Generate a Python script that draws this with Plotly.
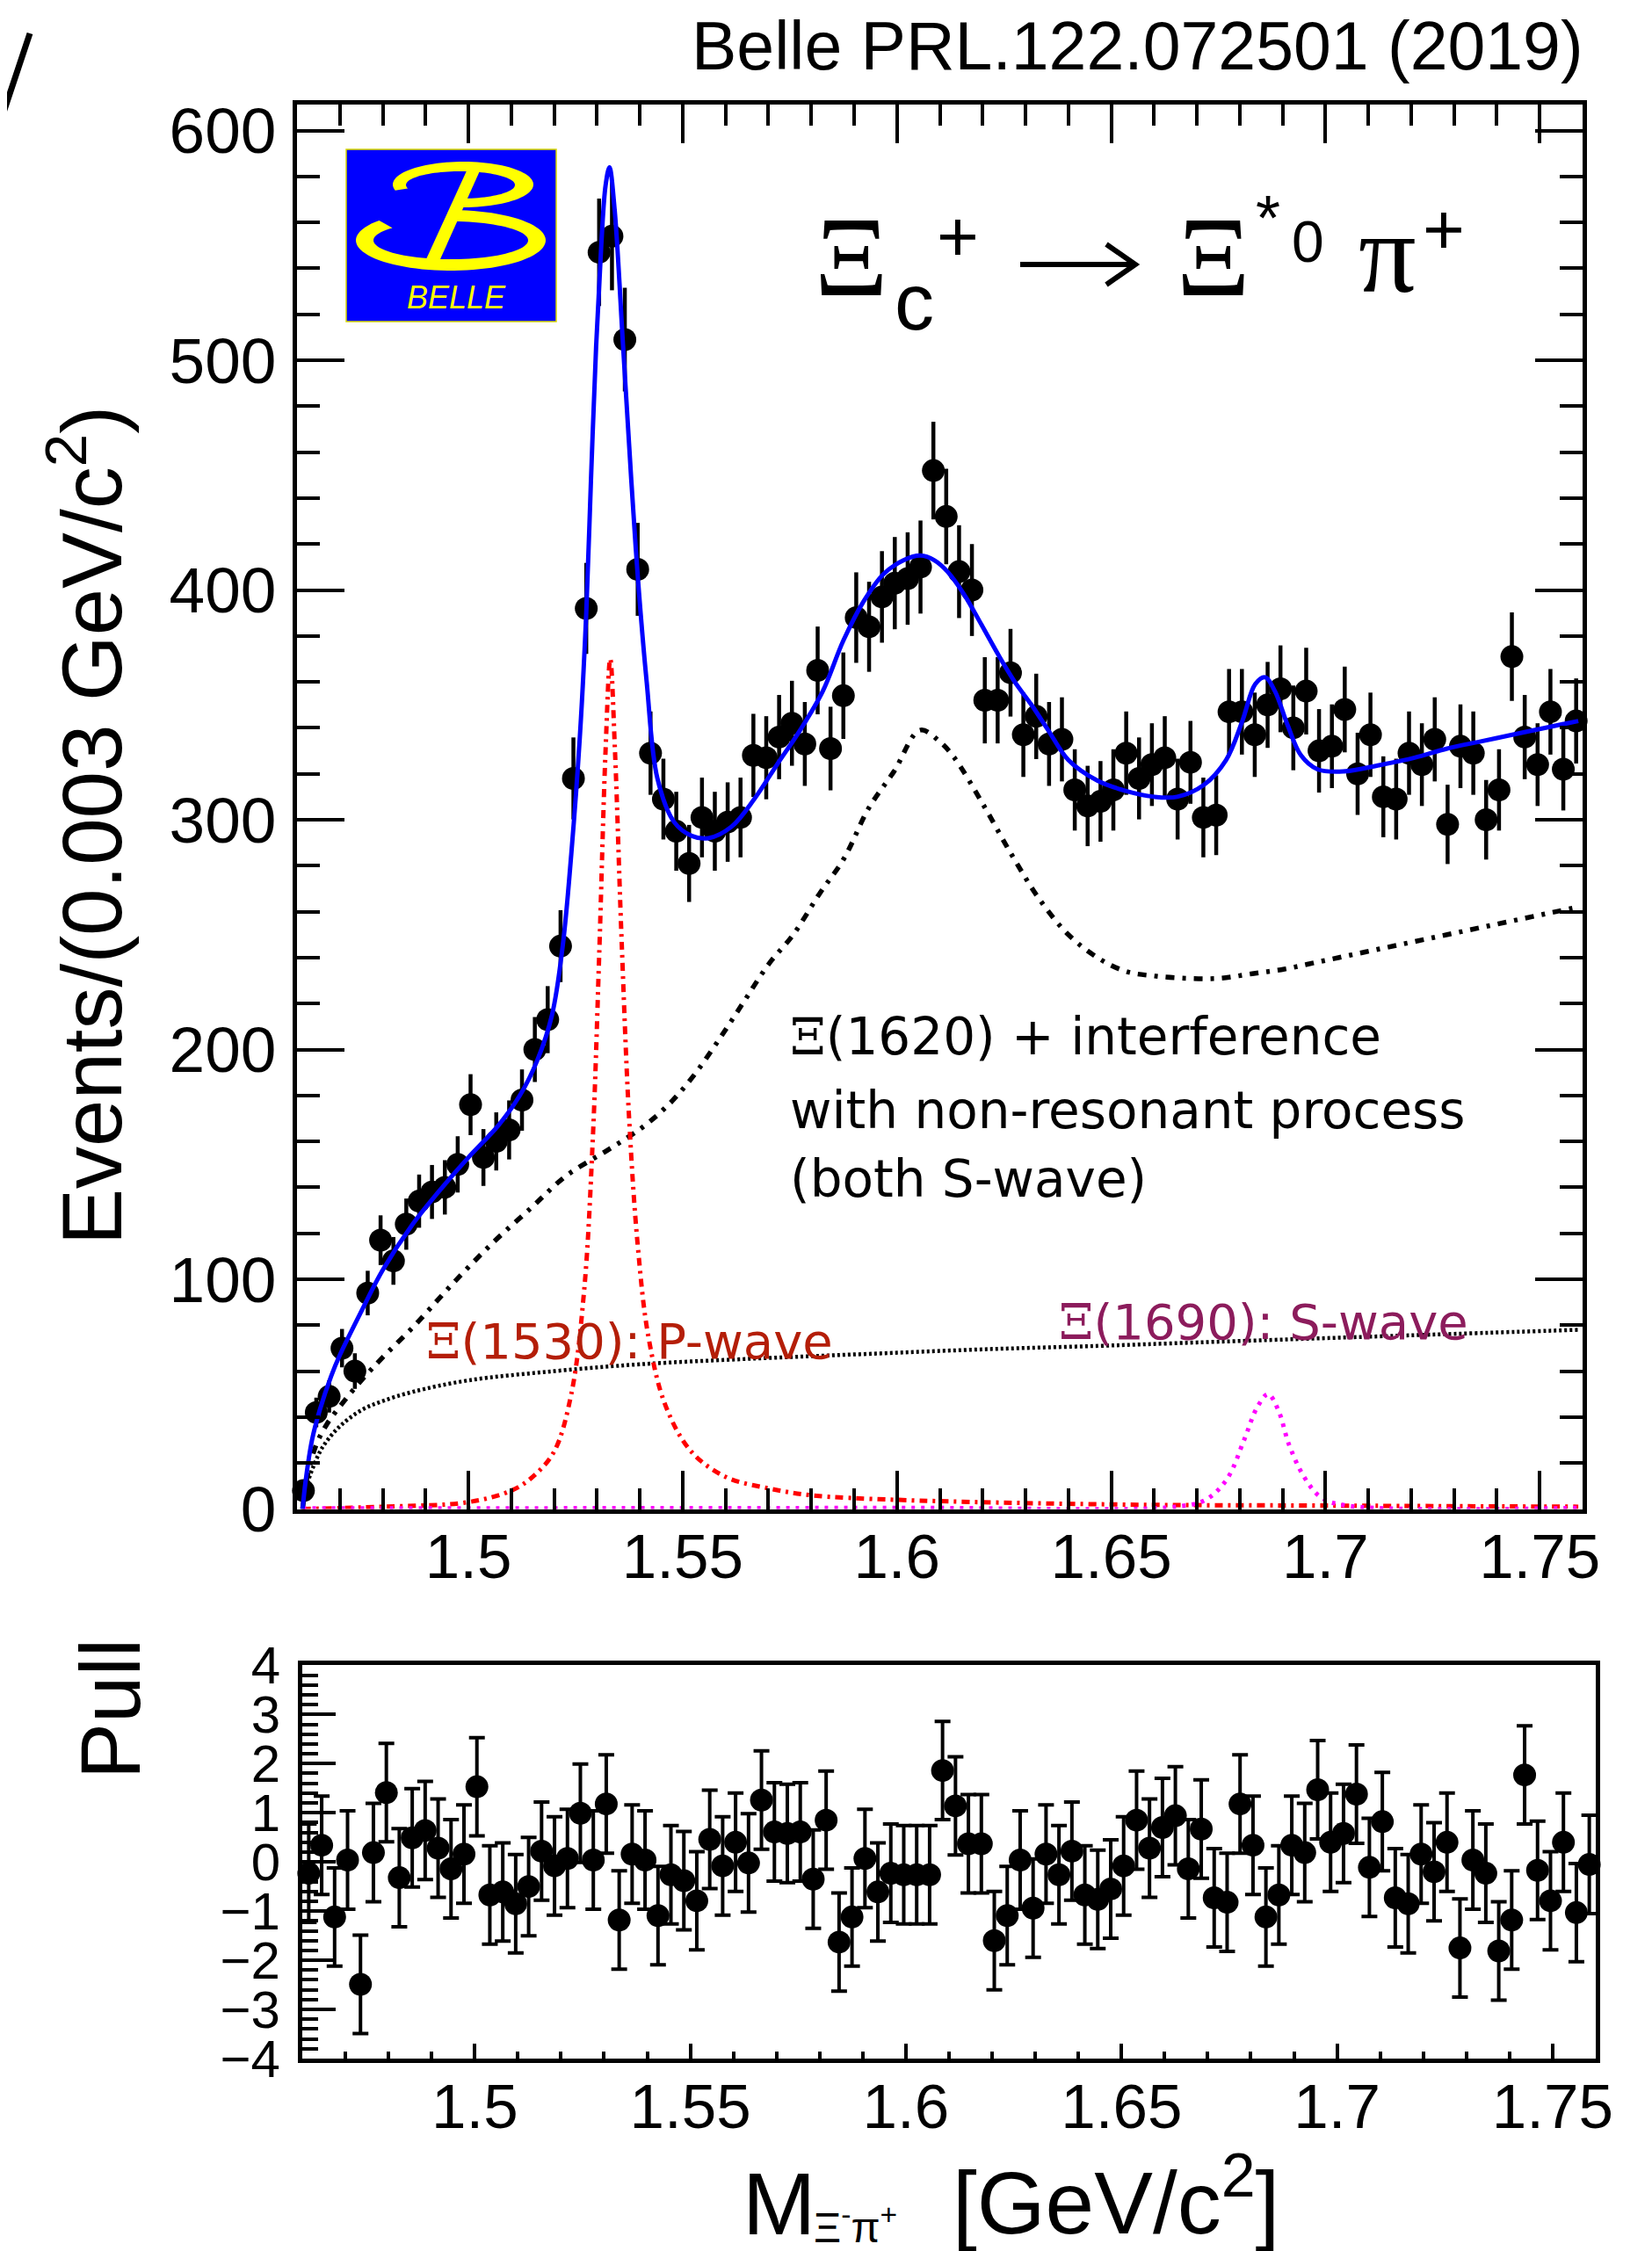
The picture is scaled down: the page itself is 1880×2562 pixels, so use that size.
import numpy as np
import plotly.graph_objects as go

W, H = 1880, 2562
OX, OY = 8, 8   # page offset of the plot inside the browser page


def px(x):
    return (x - OX) / W


def py(y):
    return 1 - (y - OY) / H


# ---------------- data ----------------
bin_lo = 1.46
bin_width = 0.003

counts = [8, 42, 49, 70, 60, 94, 117, 108, 124, 134,
          138, 140, 150, 176, 153, 160, 165, 178, 200, 213,
          245, 318, 392, 547, 554, 509, 409, 329, 309, 295,
          281, 301, 295, 299, 301, 328, 327, 336, 342, 333,
          365, 331, 354, 388, 384, 397, 403, 405, 410, 452,
          432, 408, 400, 352, 352, 364, 337, 345, 333, 335,
          313, 306, 308, 313, 329, 318, 324, 327, 309, 325,
          301, 302, 347, 347, 337, 350, 357, 340, 356, 330,
          332, 348, 320, 337, 310, 309, 329, 324, 335, 298,
          332, 329, 300, 313, 371, 336, 324, 347, 322, 343]

pulls = [-0.23, 0.34, -1.12, 0.04, -2.49, 0.19, 1.41, -0.32, 0.49, 0.64,
         0.28, -0.14, 0.16, 1.53, -0.67, -0.61, -0.85, -0.50, 0.22, -0.08,
         0.07, 0.99, 0.04, 1.18, -1.18, 0.16, 0.04, -1.09, -0.26, -0.38,
         -0.79, 0.46, -0.08, 0.40, -0.02, 1.26, 0.61, 0.58, 0.61, -0.35,
         0.85, -1.63, -1.12, 0.07, -0.61, -0.23, -0.26, -0.26, -0.26, 1.86,
         1.14, 0.37, 0.37, -1.60, -1.09, 0.04, -0.94, 0.16, -0.26, 0.22,
         -0.67, -0.76, -0.55, -0.08, 0.85, 0.28, 0.70, 0.94, -0.14, 0.67,
         -0.73, -0.82, 1.18, 0.34, -1.12, -0.67, 0.34, 0.19, 1.47, 0.40,
         0.58, 1.38, -0.11, 0.82, -0.73, -0.85, 0.16, -0.20, 0.40, -1.75,
         0.04, -0.23, -1.81, -1.18, 1.77, -0.17, -0.79, 0.40, -1.03, -0.05]

mass = [round(bin_lo + bin_width * (i + 0.5), 4) for i in range(len(counts))]
count_err = [float(np.sqrt(c)) for c in counts]
pull_err = [1.0] * len(pulls)

# total fit (blue)
fit_m = [1.4613, 1.4620, 1.4635, 1.4653, 1.4680, 1.4700, 1.4750, 1.4800, 1.4870, 1.4930,
         1.5000, 1.5070, 1.5120, 1.5160, 1.5195, 1.5220, 1.5240, 1.5260, 1.5275, 1.5286,
         1.5298, 1.5310, 1.5320, 1.5329, 1.5341, 1.5361, 1.5380, 1.5396, 1.5416, 1.5441,
         1.5480, 1.5521, 1.5560, 1.5614, 1.5667, 1.5720, 1.5774, 1.5827, 1.5875, 1.5922,
         1.5969, 1.6016, 1.6055, 1.6087, 1.6118, 1.6157, 1.6197, 1.6236, 1.6275, 1.6314,
         1.6353, 1.6400, 1.6468, 1.6526, 1.6601, 1.6654, 1.6715, 1.6768, 1.6806, 1.6836,
         1.6859, 1.6882, 1.6912, 1.6943, 1.6981, 1.7041, 1.7132, 1.7208, 1.7284, 1.7360,
         1.7436, 1.7512, 1.7590]
fit_v = [0, 12, 30, 43, 58, 67, 86, 104, 124, 138,
         153, 167, 180, 195, 215, 245, 285, 336, 390, 448,
         506, 550, 576, 584, 566, 506, 448, 404, 360, 318,
         299, 293, 292, 297, 309, 324, 339, 356, 378, 395,
         407, 413, 415, 413, 408, 398, 385, 372, 360, 350,
         339, 326, 317, 313, 310, 310, 315, 326, 343, 359,
         362, 356, 341, 328, 322, 321, 324, 327, 331, 334,
         337, 340, 343]

# Xi(1620) + interference (black dash-dot)
x1620_m = [1.4613, 1.4625, 1.4645, 1.4670, 1.4710, 1.4755, 1.4800, 1.4875, 1.4958, 1.5052,
           1.5146, 1.5228, 1.5323, 1.5405, 1.5467, 1.5523, 1.5580, 1.5640, 1.5700, 1.5758,
           1.5820, 1.5876, 1.5934, 1.5993, 1.6054, 1.6100, 1.6134, 1.6200, 1.6267, 1.6334,
           1.6400, 1.6468, 1.6534, 1.6601, 1.6677, 1.6753, 1.6829, 1.6904, 1.6980, 1.7056,
           1.7132, 1.7208, 1.7284, 1.7360, 1.7436, 1.7512, 1.7590]
x1620_v = [0, 15, 28, 37, 47, 57, 66, 80, 97, 115,
           131, 145, 156, 166, 176, 188, 203, 220, 237, 250,
           268, 283, 305, 321, 339, 334, 327, 307, 285, 265,
           250, 240, 234, 232, 231, 231, 233, 235, 238, 241,
           244, 247, 250, 253, 256, 259, 262]

# non-resonant background (black dotted)
bkg_m = [1.4613, 1.4620, 1.4635, 1.4660, 1.4700, 1.4750, 1.4800, 1.4870, 1.5000, 1.5200,
         1.5400, 1.5670, 1.5930, 1.6200, 1.6470, 1.6700, 1.7100, 1.7590]
bkg_v = [0, 8, 17, 27, 36, 43, 47, 51, 56, 60,
         63, 65.5, 67.5, 69.5, 71, 72.5, 75, 78]

# Xi(1530) P-wave (red)
x1530_m = [1.4613, 1.4800, 1.5000, 1.5100, 1.5150, 1.5200, 1.5240, 1.5270, 1.5290, 1.5305,
           1.5320, 1.5331, 1.5342, 1.5357, 1.5375, 1.5395, 1.5420, 1.5460, 1.5520, 1.5600,
           1.5700, 1.5800, 1.6000, 1.6500, 1.7000, 1.7590]
x1530_v = [0, 1, 3, 8, 14, 25, 50, 95, 160, 240,
           330, 370, 330, 250, 170, 115, 75, 45, 25, 14,
           9, 6, 4, 2, 1.5, 1]

# Xi(1690) S-wave (magenta)
x1690_m = [1.4613, 1.6000, 1.6650, 1.6720, 1.6770, 1.6810, 1.6840, 1.6866, 1.6890, 1.6915,
           1.6950, 1.6990, 1.7050, 1.7590]
x1690_v = [0.3, 0.5, 1, 4, 13, 30, 44, 50, 43, 28,
           14, 5, 1.5, 0.5]

# ---------------- figure ----------------
fig = go.Figure()

fig.add_trace(go.Scatter(
    x=mass, y=counts, mode="markers",
    marker=dict(color="black", size=26, line=dict(width=0)),
    error_y=dict(type="data", array=count_err, color="black", thickness=4.5, width=0),
    xaxis="x", yaxis="y", showlegend=False, cliponaxis=False))

fig.add_trace(go.Scatter(x=bkg_m, y=bkg_v, mode="lines", line_shape="spline",
                         line=dict(color="black", width=4.5, dash="3px,3px"),
                         xaxis="x", yaxis="y", showlegend=False))
fig.add_trace(go.Scatter(x=x1620_m, y=x1620_v, mode="lines", line_shape="spline",
                         line=dict(color="black", width=5.5, dash="10px,9px,4px,9px"),
                         xaxis="x", yaxis="y", showlegend=False))
fig.add_trace(go.Scatter(x=x1530_m, y=x1530_v, mode="lines", line_shape="spline",
                         line=dict(color="#ff0000", width=5, dash="9px,6px,3px,6px"),
                         xaxis="x", yaxis="y", showlegend=False))
fig.add_trace(go.Scatter(x=x1690_m, y=x1690_v, mode="lines", line_shape="spline",
                         line=dict(color="#ff00ff", width=5, dash="4px,7px"),
                         xaxis="x", yaxis="y", showlegend=False))
fig.add_trace(go.Scatter(x=fit_m, y=fit_v, mode="lines", line_shape="spline",
                         line=dict(color="#0000ff", width=5),
                         xaxis="x", yaxis="y", showlegend=False))

fig.add_trace(go.Scatter(
    x=mass, y=pulls, mode="markers",
    marker=dict(color="black", size=26, line=dict(width=0)),
    error_y=dict(type="data", array=pull_err, color="black", thickness=4, width=9),
    xaxis="x2", yaxis="y2", showlegend=False, cliponaxis=False))

SANS = "Liberation Sans, Arial, sans-serif"
common = dict(showline=True, linecolor="black", linewidth=5, ticks="inside",
              tickcolor="black", tickwidth=4, showgrid=False, zeroline=False,
              automargin=False)
major_x = [1.5, 1.55, 1.6, 1.65, 1.7, 1.75]
major_x_text = ["1.5", "1.55", "1.6", "1.65", "1.7", "1.75"]

fig.update_layout(
    width=W, height=H,
    margin=dict(l=0, r=0, t=0, b=0, pad=0, autoexpand=False),
    paper_bgcolor="white", plot_bgcolor="rgba(0,0,0,0)",
    xaxis=dict(common, domain=[px(338), px(1801)], range=[1.46, 1.76], anchor="y",
               tickmode="array", tickvals=major_x, ticktext=major_x_text,
               tickfont=dict(family=SANS, size=71, color="black"),
               ticklen=44, mirror="allticks", ticklabelstandoff=-12,
               minor=dict(tickmode="linear", tick0=1.46, dtick=0.01, ticklen=24,
                          tickwidth=4, tickcolor="black", ticks="inside")),
    yaxis=dict(common, domain=[py(1717.5), py(118.75)], range=[0, 611.4], anchor="x",
               tickmode="linear", tick0=0, dtick=100, ticklen=54, mirror="allticks",
               tickfont=dict(family=SANS, size=73, color="black"),
               ticklabelstandoff=4,
               minor=dict(tickmode="linear", tick0=0, dtick=20, ticklen=26,
                          tickwidth=4, tickcolor="black", ticks="inside")),
    xaxis2=dict(common, domain=[px(344), px(1816)], range=[1.46, 1.76], anchor="y2",
                tickmode="array", tickvals=major_x, ticktext=major_x_text,
                tickfont=dict(family=SANS, size=71, color="black"),
                ticklen=17, mirror=True, ticklabelstandoff=-11,
                minor=dict(tickmode="linear", tick0=1.46, dtick=0.01, ticklen=8,
                           tickwidth=4, tickcolor="black", ticks="inside")),
    yaxis2=dict(common, domain=[py(2343), py(1895.4)], range=[-4, 4], anchor="x2",
                tickmode="linear", tick0=-4, dtick=1, ticklen=38, mirror=True,
                tickfont=dict(family=SANS, size=60, color="black"),
                ticklabelstandoff=8,
                minor=dict(tickmode="linear", tick0=-4, dtick=0.2, ticklen=18,
                           tickwidth=4, tickcolor="black", ticks="inside")),
)

# ---------------- annotations ----------------
DSANS = "DejaVu Sans, sans-serif"
TIMES = "Liberation Serif, Times New Roman, serif"
anns = []


def ann(text, x, y, size, color="black", xanchor="center", yanchor="middle",
        family=SANS, angle=0):
    anns.append(dict(text=text, x=px(x), y=py(y), xref="paper", yref="paper",
                     showarrow=False, xanchor=xanchor, yanchor=yanchor,
                     textangle=angle,
                     font=dict(family=family, size=size, color=color)))


XI = '<span style="font-family:DejaVu Serif">Ξ</span>'

ann("Belle PRL.122.072501 (2019)", 1804, 52, 77, xanchor="right")
ann("Events/(0.003 GeV/c<sup>2</sup>)", 98, 940, 96, angle=-90)
ann("Pull", 126, 1945, 96, angle=-90)
ann("M", 843, 2508, 100, xanchor="left")
ann("Ξ<sup>-</sup>π<sup>+</sup>", 924, 2532, 48, xanchor="left")
ann("[GeV/c<sup>2</sup>]", 1082, 2500, 100, xanchor="left")

# decay label
ann("Ξ", 969, 292, 130, family=TIMES)
ann("c", 1040, 344, 90)
ann("+", 1090, 268, 82)
ann("Ξ", 1381, 292, 130, family=TIMES)
ann("*", 1443, 248, 72)
ann("0", 1488, 275, 66)
ann("π", 1579, 288, 130, family=TIMES)
ann("+", 1643, 260, 82)

ann(XI + "(1620) + interference", 897, 1180, 58, xanchor="left", family=DSANS)
ann("with non-resonant process", 897, 1264, 58, xanchor="left", family=DSANS)
ann("(both S-wave)", 897, 1342, 58, xanchor="left", family=DSANS)
ann(XI + "(1530): P-wave", 483, 1526, 56, color="#b41e08", xanchor="left", family=DSANS)
ann(XI + "(1690): S-wave", 1203, 1504, 56, color="#8c1c5c", xanchor="left", family=DSANS)

ann("<i>BELLE</i>", 519, 338, 36, color="#ffff00")

# ---------------- shapes ----------------
shapes = []


def path_from(points):
    return "M " + " L ".join(f"{px(x):.5f},{py(y):.5f}" for x, y in points) + " Z"


def ring(cx, cy, rxo, ryo, cxi, cyi, rxi, ryi, t0, t1, n=80):
    ts = np.radians(np.linspace(t0, t1, n))
    outer = [(cx + rxo * np.cos(t), cy - ryo * np.sin(t)) for t in ts]
    inner = [(cxi + rxi * np.cos(t), cyi - ryi * np.sin(t)) for t in ts[::-1]]
    return path_from(outer + inner)


# Belle logo
shapes.append(dict(type="rect", xref="paper", yref="paper",
                   x0=px(394), x1=px(633), y0=py(366), y1=py(170),
                   fillcolor="#0000ff", line=dict(color="#d8d800", width=1.5), layer="above"))
yel = "#ffff00"
shapes.append(dict(type="path", xref="paper", yref="paper",
                   path=ring(527, 210, 80, 26, 524, 210.5, 62, 15.5, -93, 195),
                   fillcolor=yel, line=dict(width=0), layer="above"))
shapes.append(dict(type="path", xref="paper", yref="paper",
                   path=ring(513, 273.5, 108, 34.5, 513, 273.5, 88, 21.5, 139, 448),
                   fillcolor=yel, line=dict(width=0), layer="above"))
shapes.append(dict(type="path", xref="paper", yref="paper",
                   path=path_from([(531, 194.6), (546, 194.6), (501, 295), (485, 295)]),
                   fillcolor=yel, line=dict(width=0), layer="above"))

# arrow of the decay label
shapes.append(dict(type="line", xref="paper", yref="paper",
                   x0=px(1161), y0=py(301), x1=px(1290), y1=py(301),
                   line=dict(color="black", width=6)))
shapes.append(dict(type="path", xref="paper", yref="paper",
                   path=f"M {px(1259):.5f},{py(278):.5f} L {px(1292):.5f},{py(301):.5f} L {px(1259):.5f},{py(324):.5f}",
                   line=dict(color="black", width=6)))

# stray slide stroke at top-left
shapes.append(dict(type="line", xref="paper", yref="paper",
                   x0=px(34), y0=py(38), x1=px(-2), y1=py(146),
                   line=dict(color="black", width=7)))

fig.update_layout(annotations=anns, shapes=shapes)
fig.write_html("out.html")
